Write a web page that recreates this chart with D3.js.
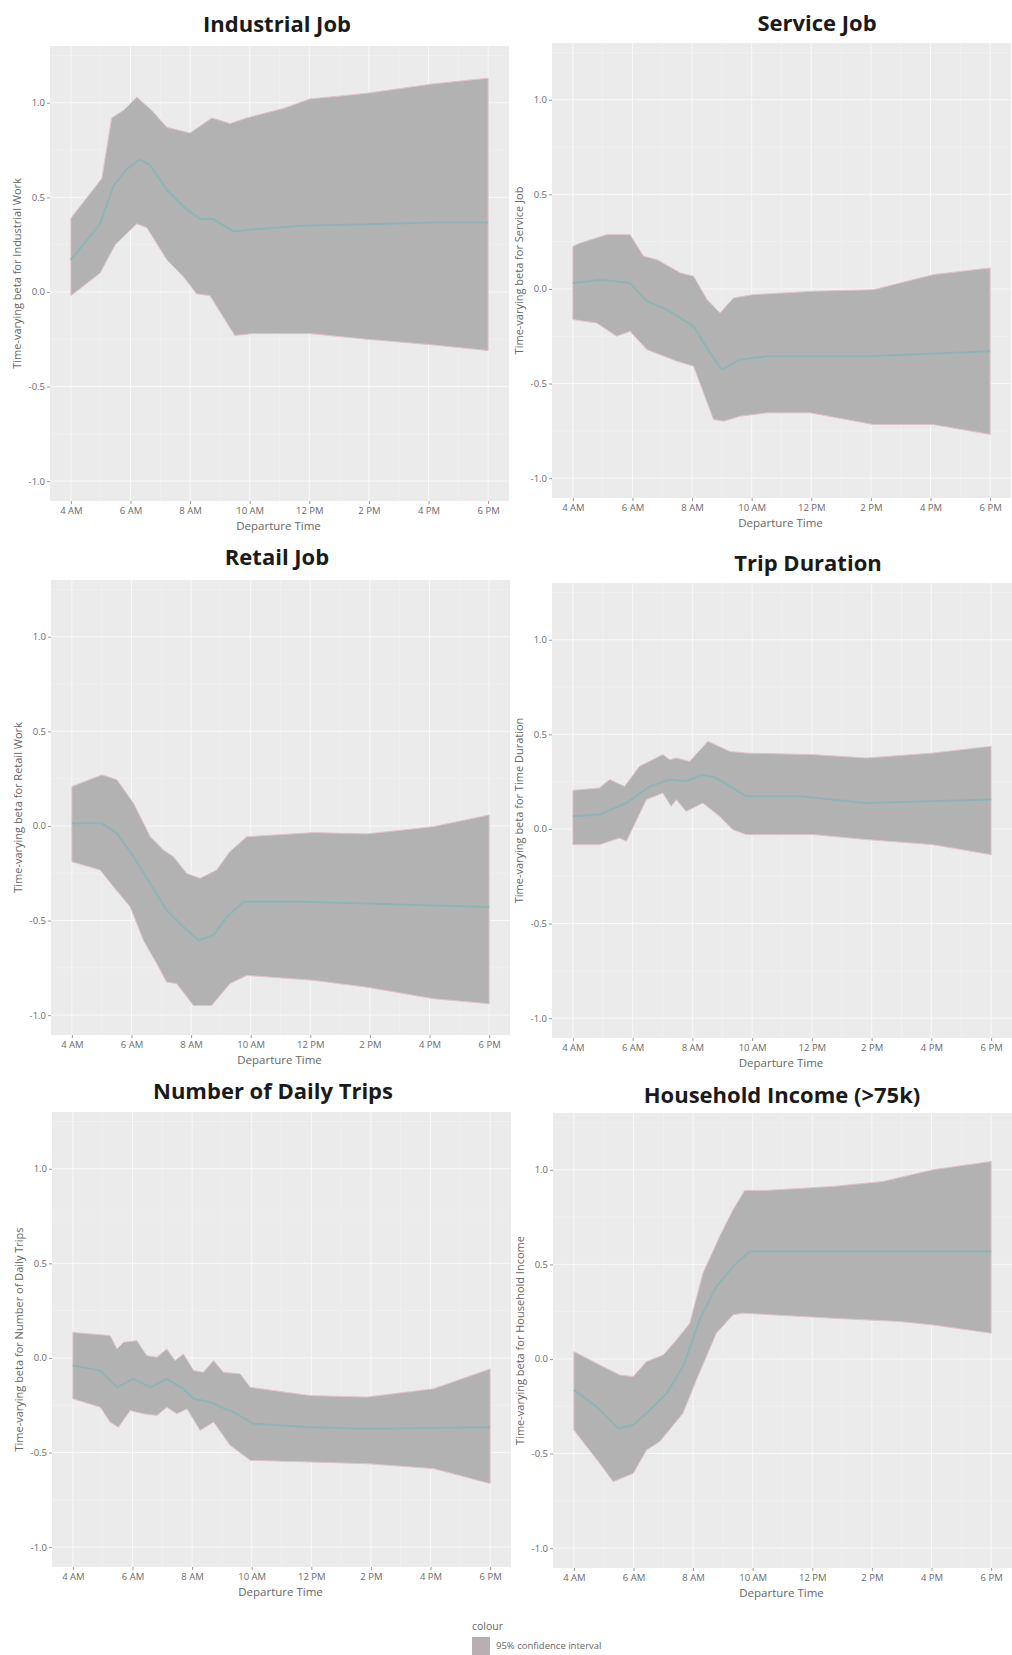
<!DOCTYPE html>
<html>
<head>
<meta charset="utf-8">
<script src="https://cdn.jsdelivr.net/npm/d3@7"></script>
<style>
  body { margin: 0; background: #fff; }
  svg { display: block; font-family: "Open Sans", "Noto Sans", sans-serif; }
</style>
</head>
<body>
<svg id="chart" width="1012" height="1655"></svg>
<script>
// panel titles and y axis titles
var titles = ["Industrial Job", "Service Job", "Retail Job", "Trip Duration", "Number of Daily Trips", "Household Income (>75k)"];
var yTitles = [
  "Time-varying beta for Industrial Work",
  "Time-varying beta for Service Job",
  "Time-varying beta for Retail Work",
  "Time-varying beta for Time Duration",
  "Time-varying beta for Number of Daily Trips",
  "Time-varying beta for Household Income"
];

// tick values / labels
var xTickHours = [4, 6, 8, 10, 12, 14, 16, 18];
var xTickLabels = ["4 AM", "6 AM", "8 AM", "10 AM", "12 PM", "2 PM", "4 PM", "6 PM"];
var yTickValues = [-1, -0.5, 0, 0.5, 1];
var yTickLabels = ["-1.0", "-0.5", "0.0", "0.5", "1.0"];

// [hour, beta]
var industrialUpper = [[4,0.39],[5.04,0.6],[5.37,0.92],[5.77,0.96],[6.21,1.03],[6.71,0.96],[7.22,0.87],[8.0,0.84],[8.73,0.92],[9.34,0.89],[9.9,0.92],[11.13,0.97],[12.02,1.02],[13.92,1.05],[16.16,1.1],[18,1.13]];
var industrialMean  = [[4,0.17],[4.98,0.36],[5.43,0.56],[5.88,0.65],[6.32,0.7],[6.66,0.67],[7.22,0.54],[7.78,0.45],[8.34,0.385],[8.78,0.385],[9.45,0.32],[10.12,0.33],[11.69,0.35],[13.92,0.358],[16.16,0.367],[18,0.367]];
var industrialLower = [[4,-0.02],[4.98,0.1],[5.49,0.25],[6.21,0.36],[6.55,0.34],[7.22,0.17],[7.78,0.08],[8.22,-0.01],[8.67,-0.02],[9.5,-0.23],[10.12,-0.22],[12.02,-0.22],[13.92,-0.25],[16.16,-0.28],[18,-0.31]];

var serviceUpper = [[4,0.225],[4.25,0.243],[5.14,0.287],[5.92,0.287],[6.37,0.173],[6.82,0.155],[7.6,0.085],[8.05,0.067],[8.5,-0.056],[8.94,-0.127],[9.39,-0.048],[10.06,-0.03],[12.08,-0.012],[14.09,-0.004],[16.1,0.076],[18,0.111]];
var serviceMean  = [[4,0.032],[4.92,0.049],[5.92,0.032],[6.48,-0.065],[7.15,-0.109],[8.05,-0.197],[8.6,-0.338],[9.0,-0.426],[9.61,-0.373],[10.51,-0.356],[13.87,-0.356],[18,-0.329]];
var serviceLower = [[4,-0.162],[4.8,-0.18],[5.47,-0.25],[5.92,-0.224],[6.48,-0.32],[7.49,-0.382],[8.05,-0.408],[8.72,-0.69],[9.06,-0.699],[9.61,-0.673],[10.51,-0.655],[11.96,-0.655],[14.09,-0.717],[16.1,-0.717],[18,-0.769]];

var retailUpper = [[4,0.208],[5.01,0.27],[5.51,0.244],[6.07,0.12],[6.63,-0.057],[7.07,-0.127],[7.41,-0.163],[7.85,-0.251],[8.3,-0.277],[8.86,-0.233],[9.3,-0.136],[9.87,-0.057],[12.1,-0.035],[13.89,-0.042],[16.12,-0.004],[18,0.058]];
var retailMean  = [[4,0.014],[5.01,0.014],[5.51,-0.039],[6.07,-0.163],[6.63,-0.304],[7.18,-0.445],[7.74,-0.534],[8.25,-0.604],[8.75,-0.578],[9.2,-0.481],[9.76,-0.401],[11.65,-0.401],[13.89,-0.41],[18,-0.428]];
var retailLower = [[4,-0.189],[4.95,-0.233],[5.4,-0.322],[5.96,-0.428],[6.4,-0.604],[6.85,-0.728],[7.18,-0.825],[7.52,-0.834],[8.08,-0.949],[8.69,-0.949],[9.3,-0.834],[9.87,-0.79],[12.1,-0.816],[13.89,-0.852],[16.12,-0.913],[18,-0.94]];

var durationUpper = [[4,0.204],[4.89,0.217],[5.23,0.261],[5.73,0.225],[6.23,0.331],[7.01,0.393],[7.24,0.366],[7.46,0.375],[7.91,0.357],[8.52,0.463],[9.25,0.41],[9.8,0.401],[12.04,0.393],[13.82,0.375],[16.05,0.401],[18,0.437]];
var durationMean  = [[4,0.067],[4.89,0.076],[5.79,0.137],[6.57,0.225],[7.24,0.261],[7.8,0.252],[8.35,0.287],[8.8,0.269],[9.8,0.173],[11.59,0.173],[13.82,0.137],[18,0.155]];
var durationLower = [[4,-0.083],[4.89,-0.083],[5.56,-0.048],[5.79,-0.065],[6.46,0.155],[7.01,0.19],[7.29,0.12],[7.46,0.155],[7.79,0.093],[8.35,0.137],[8.91,0.067],[9.36,-0.004],[9.8,-0.03],[12.04,-0.03],[13.82,-0.056],[16.05,-0.083],[18,-0.136]];

var tripsUpper = [[4,0.135],[5.25,0.118],[5.48,0.047],[5.7,0.083],[6.15,0.091],[6.48,0.012],[6.82,0.004],[7.15,0.047],[7.43,-0.014],[7.71,0.021],[8.05,-0.067],[8.38,-0.076],[8.72,-0.014],[9.05,-0.076],[9.61,-0.084],[9.95,-0.155],[11.96,-0.199],[13.87,-0.207],[16.1,-0.163],[18,-0.058]];
var tripsMean  = [[4,-0.04],[4.92,-0.067],[5.48,-0.155],[6.04,-0.111],[6.6,-0.155],[7.15,-0.111],[7.71,-0.163],[8.05,-0.216],[8.6,-0.234],[9.39,-0.286],[10.06,-0.348],[11.96,-0.366],[13.87,-0.374],[18,-0.366]];
var tripsLower = [[4,-0.216],[4.92,-0.26],[5.25,-0.339],[5.53,-0.366],[5.92,-0.278],[6.37,-0.295],[6.82,-0.304],[7.15,-0.26],[7.49,-0.295],[7.83,-0.269],[8.27,-0.383],[8.72,-0.339],[9.28,-0.462],[9.95,-0.541],[11.96,-0.55],[13.87,-0.559],[16.1,-0.585],[18,-0.664]];

var incomeUpper = [[4,0.039],[4.87,-0.032],[5.54,-0.085],[5.99,-0.093],[6.44,-0.014],[7.0,0.021],[7.44,0.1],[7.89,0.189],[8.33,0.453],[8.89,0.647],[9.34,0.788],[9.73,0.891],[10.46,0.891],[12.69,0.912],[14.37,0.938],[16.04,1.0],[18,1.044]];
var incomeMean  = [[4,-0.164],[4.76,-0.252],[5.49,-0.367],[5.99,-0.349],[6.55,-0.27],[7.11,-0.182],[7.66,-0.041],[8.22,0.206],[8.78,0.383],[9.34,0.489],[9.9,0.568],[12.69,0.568],[18,0.568]];
var incomeLower = [[4,-0.376],[4.87,-0.552],[5.32,-0.649],[5.99,-0.605],[6.44,-0.481],[6.88,-0.437],[7.66,-0.287],[8.11,-0.111],[8.78,0.136],[9.34,0.233],[9.67,0.242],[12.69,0.215],[14.92,0.198],[16.04,0.18],[18,0.136]];

var uppers = [industrialUpper, serviceUpper, retailUpper, durationUpper, tripsUpper, incomeUpper];
var means  = [industrialMean, serviceMean, retailMean, durationMean, tripsMean, incomeMean];
var lowers = [industrialLower, serviceLower, retailLower, durationLower, tripsLower, incomeLower];

// panel boxes and title positions
var layout = [
  {left: 50,  right: 509,  top: 46,   bottom: 501,  titleX: 277, titleY: 24},
  {left: 552, right: 1011, top: 43,   bottom: 498,  titleX: 817, titleY: 23},
  {left: 51,  right: 510,  top: 580,  bottom: 1035, titleX: 277, titleY: 557},
  {left: 552, right: 1012, top: 583,  bottom: 1038, titleX: 808, titleY: 563},
  {left: 52,  right: 511,  top: 1112, bottom: 1567, titleX: 273, titleY: 1091},
  {left: 553, right: 1012, top: 1113, bottom: 1568, titleX: 782, titleY: 1095}
];

var svg = d3.select("#chart");

titles.forEach(function(title, i) {
  var p = layout[i];

  var x = d3.scaleLinear().domain([3.3, 18.7]).range([p.left, p.right]);
  var y = d3.scaleLinear().domain([-1.105, 1.3]).range([p.bottom, p.top]);

  var g = svg.append("g");

  g.append("rect")
    .attr("x", p.left).attr("y", p.top)
    .attr("width", p.right - p.left).attr("height", p.bottom - p.top)
    .attr("fill", "#ebebeb");

  // minor grid
  var minorY = [-0.75, -0.25, 0.25, 0.75, 1.25];
  var minorX = [5, 7, 9, 11, 13, 15, 17];
  g.selectAll(".minory").data(minorY).enter().append("line")
    .attr("x1", p.left).attr("x2", p.right)
    .attr("y1", function(d) { return y(d); }).attr("y2", function(d) { return y(d); })
    .attr("stroke", "#f4f4f4").attr("stroke-width", 0.6);
  g.selectAll(".minorx").data(minorX).enter().append("line")
    .attr("y1", p.top).attr("y2", p.bottom)
    .attr("x1", function(d) { return x(d); }).attr("x2", function(d) { return x(d); })
    .attr("stroke", "#f4f4f4").attr("stroke-width", 0.6);

  // major grid
  g.selectAll(".majory").data(yTickValues).enter().append("line")
    .attr("x1", p.left).attr("x2", p.right)
    .attr("y1", function(d) { return y(d); }).attr("y2", function(d) { return y(d); })
    .attr("stroke", "#f8f8f8").attr("stroke-width", 1);
  g.selectAll(".majorx").data(xTickHours).enter().append("line")
    .attr("y1", p.top).attr("y2", p.bottom)
    .attr("x1", function(d) { return x(d); }).attr("x2", function(d) { return x(d); })
    .attr("stroke", "#f8f8f8").attr("stroke-width", 1);

  // confidence ribbon: upper forward, lower back
  var ring = uppers[i].concat(lowers[i].slice().reverse());
  var line = d3.line()
    .x(function(d) { return x(d[0]); })
    .y(function(d) { return y(d[1]); });

  g.append("path")
    .attr("d", line(ring) + "Z")
    .attr("fill", "#b3b2b3")
    .attr("stroke", "#e3c3c7")
    .attr("stroke-width", 1);

  g.append("path")
    .attr("d", line(means[i]))
    .attr("fill", "none")
    .attr("stroke", "#8db5b6")
    .attr("stroke-width", 2);

  // axes
  var xAxis = d3.axisBottom(x)
    .tickValues(xTickHours)
    .tickFormat(function(d, k) { return xTickLabels[k]; })
    .tickSize(3).tickPadding(3);
  var gx = g.append("g")
    .attr("transform", "translate(0," + p.bottom + ")")
    .call(xAxis);

  var yAxis = d3.axisLeft(y)
    .tickValues(yTickValues)
    .tickFormat(function(d, k) { return yTickLabels[k]; })
    .tickSize(3).tickPadding(2);
  var gy = g.append("g")
    .attr("transform", "translate(" + p.left + ",0)")
    .call(yAxis);

  [gx, gy].forEach(function(a) {
    a.select(".domain").remove();
    a.selectAll(".tick line").attr("stroke", "#9a9a9a");
    a.selectAll(".tick text")
      .attr("fill", "#6a6a6a")
      .attr("font-size", 9.5)
      .attr("font-family", "'Open Sans', sans-serif");
  });

  // axis titles
  g.append("text")
    .attr("x", (p.left + p.right) / 2 - 1)
    .attr("y", p.bottom + 29)
    .attr("text-anchor", "middle")
    .attr("font-size", 11.5)
    .attr("fill", "#666")
    .text("Departure Time");

  g.append("text")
    .attr("transform", "translate(" + (p.left - 29) + "," + ((p.top + p.bottom) / 2) + ") rotate(-90)")
    .attr("text-anchor", "middle")
    .attr("font-size", 11)
    .attr("fill", "#666")
    .text(yTitles[i]);

  // panel title
  svg.append("text")
    .attr("x", p.titleX)
    .attr("y", p.titleY + 8)
    .attr("text-anchor", "middle")
    .attr("font-size", 22)
    .attr("font-weight", "bold")
    .attr("fill", "#1a1a1a")
    .text(title);
});

// legend
var legend = svg.append("g").attr("transform", "translate(472,1620)");
legend.append("text")
  .attr("x", 0).attr("y", 10)
  .attr("font-size", 10.5)
  .attr("fill", "#666")
  .text("colour");
legend.append("rect")
  .attr("x", 0).attr("y", 17)
  .attr("width", 18).attr("height", 18)
  .attr("fill", "#b7afb1");
legend.append("text")
  .attr("x", 24).attr("y", 29)
  .attr("font-size", 9.5)
  .attr("fill", "#666")
  .text("95% confidence interval");
</script>
</body>
</html>
